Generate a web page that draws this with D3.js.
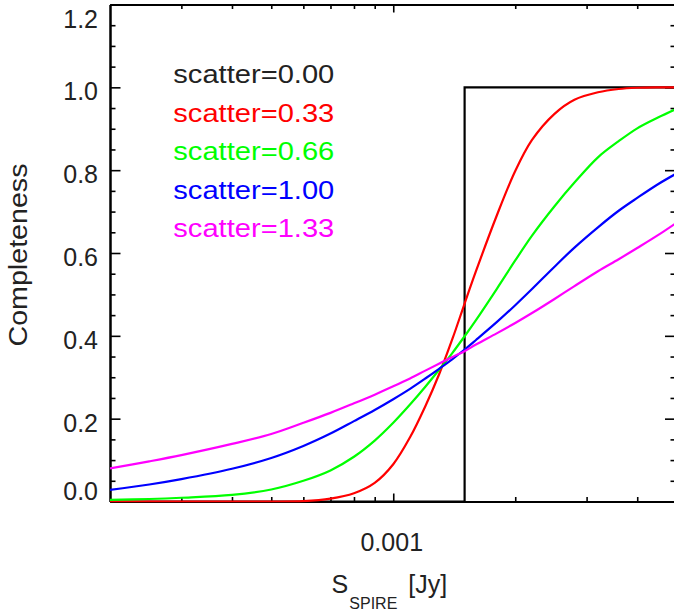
<!DOCTYPE html>
<html>
<head>
<meta charset="utf-8">
<script src="https://cdn.jsdelivr.net/npm/d3@7"></script>
<style>
  body { margin: 0; background: #fff; }
  svg { display: block; font-family: 'Liberation Sans', Arial, sans-serif; }
</style>
</head>
<body>
<div id="chart"></div>
<script>
// flux grid in Jy, completeness per scatter value
var flux = [0.0002, 0.00025, 0.0003, 0.0004, 0.0005, 0.0006, 0.0007, 0.0008, 0.0009,
  0.001, 0.0011, 0.0012, 0.0013, 0.0014, 0.0015, 0.0016, 0.0018, 0.002, 0.0022,
  0.0025, 0.0028, 0.0032, 0.0036, 0.004, 0.0045, 0.005]

var comp033 = [0, 0, 0, 0, 0, 0.001, 0.007, 0.020, 0.045,
  0.090, 0.155, 0.230, 0.309, 0.393, 0.478, 0.556, 0.690, 0.798, 0.873,
  0.936, 0.970, 0.988, 0.996, 0.999, 1.0, 1.0]
var comp066 = [0.004, 0.006, 0.009, 0.016, 0.029, 0.050, 0.075, 0.108, 0.147,
  0.190, 0.234, 0.277, 0.319, 0.359, 0.399, 0.438, 0.513, 0.582, 0.642,
  0.713, 0.770, 0.831, 0.870, 0.901, 0.927, 0.948]
var comp100 = [0.028, 0.041, 0.054, 0.079, 0.105, 0.134, 0.164, 0.194, 0.221,
  0.247, 0.272, 0.297, 0.321, 0.344, 0.367, 0.390, 0.433, 0.474, 0.513,
  0.567, 0.613, 0.662, 0.702, 0.733, 0.766, 0.792]
var comp133 = [0.080, 0.097, 0.112, 0.139, 0.163, 0.190, 0.214, 0.237, 0.258,
  0.278, 0.297, 0.316, 0.333, 0.349, 0.363, 0.379, 0.406, 0.431, 0.455,
  0.489, 0.520, 0.556, 0.585, 0.612, 0.643, 0.673]

// scatter = 0: a hard cut at 1.5 mJy
var stepFlux = [0.0002, 0.0015, 0.0015, 0.005]
var stepComp = [0, 0, 1, 1]

var scatterLabels = ['scatter=0.00', 'scatter=0.33', 'scatter=0.66', 'scatter=1.00', 'scatter=1.33']
var colors = ['#000000', '#ff0000', '#00ff00', '#0000ff', '#ff00ff']

var yMajor = [0, 0.2, 0.4, 0.6, 0.8, 1.0, 1.2]
var yMinor = [0.05, 0.1, 0.15, 0.25, 0.3, 0.35, 0.45, 0.5, 0.55, 0.65, 0.7, 0.75,
  0.85, 0.9, 0.95, 1.05, 1.1, 1.15]
var xMajor = [0.001]
var xMinor = [0.0003, 0.0004, 0.0005, 0.0006, 0.0007, 0.0008, 0.0009, 0.002, 0.003, 0.004]

var W = 674
var H = 616
var plotLeft = 110
var plotRight = 676.5
var plotTop = 4.5
var plotBottom = 501.5

var svg = d3.select('#chart').append('svg')
  .attr('width', W)
  .attr('height', H)

var x = d3.scaleLog().domain([0.0002, 0.005]).range([plotLeft, plotRight])
var y = d3.scaleLinear().domain([0, 1.2]).range([plotBottom, plotTop])

function styleAxis (g) {
  g.selectAll('.domain').attr('stroke', '#000').attr('stroke-width', 2)
  g.selectAll('.tick line').attr('stroke', '#000').attr('stroke-width', 1.6)
  g.selectAll('text').attr('fill', '#222').style('font-size', '25px')
    .style('font-family', "'Liberation Sans', Arial, sans-serif")
}

// minor ticks, all four sides
svg.append('g').attr('transform', 'translate(' + plotLeft + ',0)')
  .call(d3.axisLeft(y).tickValues(yMinor).tickSize(-5.5).tickSizeOuter(0).tickFormat(''))
  .call(styleAxis)
svg.append('g').attr('transform', 'translate(' + plotRight + ',0)')
  .call(d3.axisRight(y).tickValues(yMinor).tickSize(-6).tickSizeOuter(0).tickFormat(''))
  .call(styleAxis)
svg.append('g').attr('transform', 'translate(0,' + plotBottom + ')')
  .call(d3.axisBottom(x).tickValues(xMinor).tickSize(-4.5).tickSizeOuter(0).tickFormat(''))
  .call(styleAxis)
svg.append('g').attr('transform', 'translate(0,' + plotTop + ')')
  .call(d3.axisTop(x).tickValues(xMinor).tickSize(-4.5).tickSizeOuter(0).tickFormat(''))
  .call(styleAxis)

// major ticks with labels
var yAxis = svg.append('g').attr('transform', 'translate(' + plotLeft + ',0)')
  .call(d3.axisLeft(y).tickValues(yMajor).tickSize(-10.5).tickSizeOuter(0).tickPadding(12)
    .tickFormat(d3.format('.1f')))
  .call(styleAxis)
yAxis.selectAll('text')
  .attr('dy', function (d) {
    if (d === 0) return -1.8
    if (d === 1.2) return 22.8
    return 12.5
  })

svg.append('g').attr('transform', 'translate(' + plotRight + ',0)')
  .call(d3.axisRight(y).tickValues(yMajor).tickSize(-11.5).tickSizeOuter(0).tickFormat(''))
  .call(styleAxis)

var xAxis = svg.append('g').attr('transform', 'translate(0,' + plotBottom + ')')
  .call(d3.axisBottom(x).tickValues(xMajor).tickSize(-8).tickSizeOuter(0)
    .tickFormat(d3.format('.3f')))
  .call(styleAxis)
xAxis.selectAll('text').attr('y', 49).attr('dy', 0).attr('dx', -2)

svg.append('g').attr('transform', 'translate(0,' + plotTop + ')')
  .call(d3.axisTop(x).tickValues(xMajor).tickSize(-8).tickSizeOuter(0).tickFormat(''))
  .call(styleAxis)

// curves
svg.append('clipPath').attr('id', 'plot-clip')
  .append('rect')
  .attr('x', plotLeft).attr('y', plotTop - 2)
  .attr('width', plotRight - plotLeft).attr('height', plotBottom - plotTop + 3)

var line = d3.line()
  .x(function (d) { return x(d[0]) })
  .y(function (d) { return y(d[1]) })
  .curve(d3.curveCatmullRom.alpha(0.5))

var stepLine = d3.line()
  .x(function (d) { return x(d[0]) })
  .y(function (d) { return y(d[1]) })

var plot = svg.append('g').attr('clip-path', 'url(#plot-clip)')

plot.append('path')
  .datum(d3.zip(stepFlux, stepComp))
  .attr('d', stepLine)
  .attr('fill', 'none')
  .attr('stroke', colors[0])
  .attr('stroke-width', 2.2)

var series = [comp033, comp066, comp100, comp133]
series.forEach(function (c, i) {
  plot.append('path')
    .datum(d3.zip(flux, c))
    .attr('d', line)
    .attr('fill', 'none')
    .attr('stroke', colors[i + 1])
    .attr('stroke-width', 2.2)
    .attr('stroke-linejoin', 'round')
})

// legend
svg.append('g').selectAll('text')
  .data(scatterLabels)
  .enter().append('text')
  .attr('x', 173.3)
  .attr('y', function (d, i) { return 83.3 + i * 38.4 })
  .attr('textLength', 161)
  .attr('lengthAdjust', 'spacingAndGlyphs')
  .attr('fill', function (d, i) { return i === 0 ? '#222' : colors[i] })
  .style('font-size', '25px')
  .text(function (d) { return d })

// axis titles
svg.append('text')
  .attr('transform', 'translate(27,255) rotate(-90)')
  .attr('text-anchor', 'middle')
  .attr('textLength', 183)
  .attr('lengthAdjust', 'spacingAndGlyphs')
  .attr('fill', '#222')
  .style('font-size', '25px')
  .text('Completeness')

var xt = svg.append('text')
  .attr('x', 331.5)
  .attr('y', 593.3)
  .attr('fill', '#222')
  .style('font-size', '25px')
xt.append('tspan').text('S')
xt.append('tspan')
  .attr('x', 349.3).attr('y', 609.3)
  .style('font-size', '16px')
  .text('SPIRE')
xt.append('tspan')
  .attr('x', 408.3).attr('y', 593.3)
  .text('[Jy]')
</script>
</body>
</html>
